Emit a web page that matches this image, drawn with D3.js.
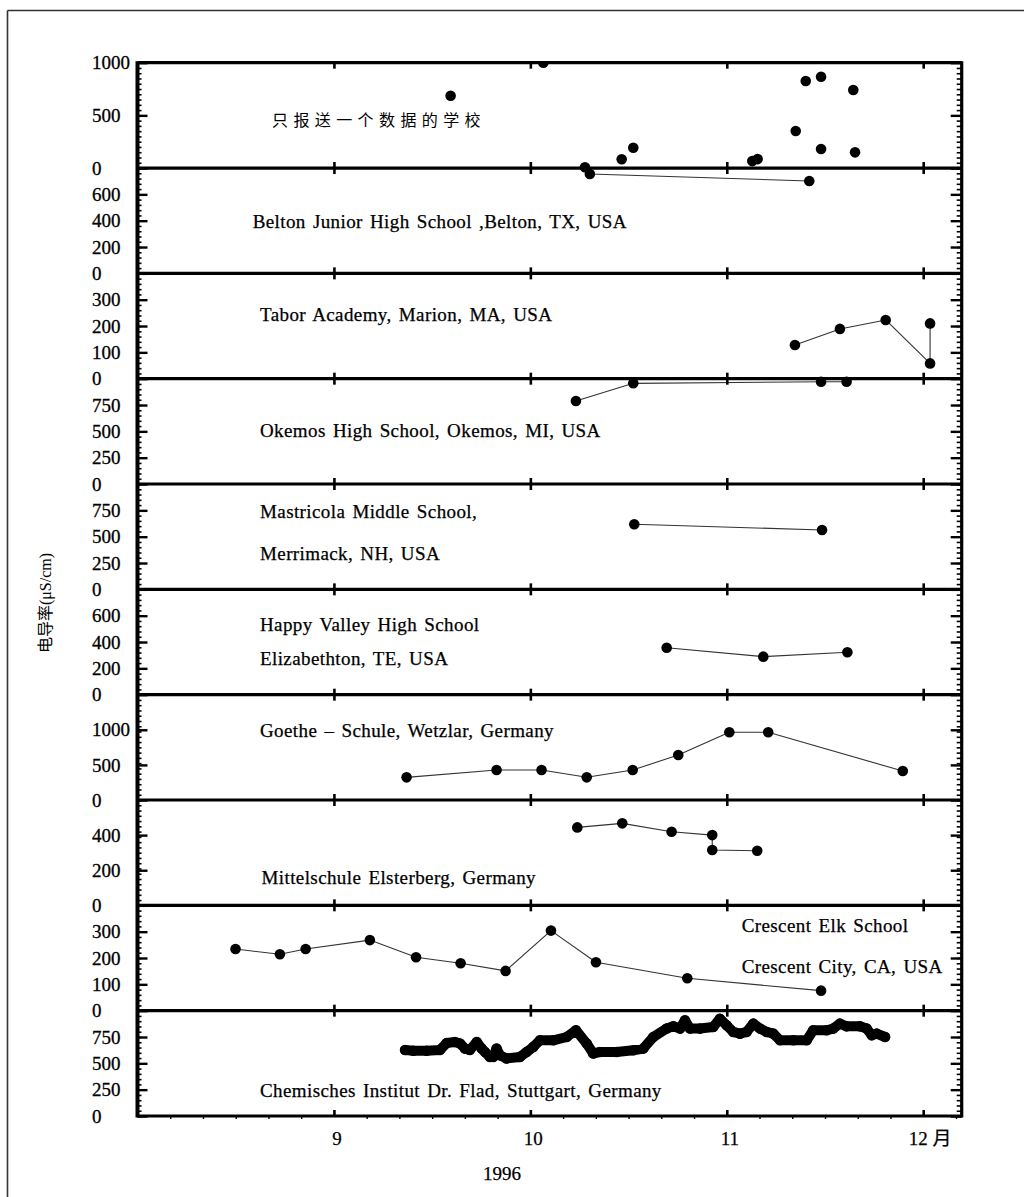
<!DOCTYPE html>
<html><head><meta charset="utf-8">
<script src="https://cdn.jsdelivr.net/npm/d3@7"></script>
<style>
body{margin:0;background:#fff;}
svg{display:block;}
</style></head><body>
<svg id="chart" width="1024" height="1197"></svg>
<script>
// ---------------- DATA ----------------
const panelNames = ["single","belton","tabor","okemos","mastricola","happy","goethe","mittel","crescent","chem"];
const panelMax = [1000, 800, 400, 1000, 1000, 800, 1500, 600, 400, 1000];
const panelTicks = [
  [0,500,1000],[0,200,400,600],[0,100,200,300],[0,250,500,750],[0,250,500,750],
  [0,200,400,600],[0,500,1000],[0,200,400],[0,100,200,300],[0,250,500,750]
];
const panelLabels = [
  ["只报送一个数据的学校"],
  ["Belton Junior High School ,Belton, TX, USA"],
  ["Tabor Academy, Marion, MA, USA"],
  ["Okemos High School, Okemos, MI, USA"],
  ["Mastricola Middle School,", "Merrimack, NH, USA"],
  ["Happy Valley High School", "Elizabethton, TE, USA"],
  ["Goethe – Schule, Wetzlar, Germany"],
  ["Mittelschule Elsterberg, Germany"],
  ["Crescent Elk School", "Crescent City, CA, USA"],
  ["Chemisches Institut Dr. Flad, Stuttgart, Germany"]
];
const monthTicks = [9, 10, 11, 12];
const monthLabels = ["9", "10", "11", "12 月"];
const yearLabel = "1996";
const yTitle = "电导率(μS/cm)";

// x in fractional months (8 = 1 Aug 1996), y in µS/cm
const singleMonths = [9.594, 10.066, 10.465, 10.524, 11.13, 11.157, 11.351, 11.402, 11.48, 11.48, 11.644, 11.653];
const singleValues = [686, 1000, 83, 193, 66, 85, 351, 826, 867, 180, 741, 149];

const beltonMonths = [10.278, 10.303, 11.42];
const beltonValues = [806, 755, 702];

const taborMonths = [11.347, 11.576, 11.809, 12.035, 12.035];
const taborValues = [128, 189, 223, 58, 210];

const okemosMonths = [10.232, 10.524, 11.48, 11.61];
const okemosValues = [788, 956, 971, 971];

const mastricolaMonths = [10.529, 11.485];
const mastricolaValues = [618, 564];

const happyMonths = [10.694, 11.186, 11.614];
const happyValues = [357, 289, 322];

const goetheMonths = [9.370, 9.828, 10.057, 10.287, 10.521, 10.753, 11.013, 11.211, 11.896];
const goetheValues = [323, 427, 427, 323, 427, 641, 964, 964, 413];

const mittelMonths = [10.239, 10.468, 10.719, 10.926, 10.926, 11.155];
const mittelValues = [444, 467, 419, 400, 315, 311];

const crescentMonths = [8.499, 8.725, 8.856, 9.183, 9.418, 9.645, 9.874, 10.105, 10.334, 10.799, 11.480];
const crescentValues = [234, 214, 234, 268, 203, 180, 151, 304, 184, 123, 76];

const chemMonths = [9.362, 9.404, 9.472, 9.540, 9.574, 9.616, 9.642, 9.667, 9.692, 9.727, 9.752, 9.769, 9.794, 9.811,
  9.828, 9.845, 9.879, 9.947, 9.981, 10.015, 10.049, 10.117, 10.185, 10.232, 10.287, 10.320, 10.354, 10.439, 10.524,
  10.575, 10.626, 10.694, 10.728, 10.762, 10.787, 10.813, 10.864, 10.931, 10.965, 10.999, 11.033, 11.067, 11.101,
  11.135, 11.169, 11.203, 11.237, 11.271, 11.339, 11.407, 11.440, 11.509, 11.542, 11.576, 11.610, 11.678, 11.712,
  11.738, 11.763, 11.806];
const chemValues = [627, 620, 620, 627, 693, 703, 688, 640, 627, 703, 640, 608, 561, 561,
  640, 577, 546, 561, 608, 656, 719, 719, 750, 814, 688, 593, 608, 608, 624,
  640, 750, 830, 851, 830, 908, 830, 830, 845, 924, 861, 798, 782, 798,
  877, 830, 798, 782, 719, 719, 719, 814, 814, 830, 877, 851, 851, 830,
  766, 782, 750];

const seriesMonths = [singleMonths, beltonMonths, taborMonths, okemosMonths, mastricolaMonths, happyMonths, goetheMonths, mittelMonths, crescentMonths, chemMonths];
const seriesValues = [singleValues, beltonValues, taborValues, okemosValues, mastricolaValues, happyValues, goetheValues, mittelValues, crescentValues, chemValues];
const seriesConnected = [false, true, true, true, true, true, true, true, true, true];

// ---------------- LAYOUT ----------------
const X0 = 137.5, X1 = 961.7, TOP = 62.7, BOTTOM = 1116;
const N = panelNames.length;
const H = (BOTTOM - TOP) / N;
const serif = '"Liberation Serif","Times New Roman","Noto Sans CJK SC",serif';
const cjk = '"Noto Sans CJK SC","Noto Sans CJK JP",sans-serif';

const svg = d3.select("#chart");
svg.append("rect").attr("width",1024).attr("height",1197).attr("fill","#fff");

// outer frame (top and left)
svg.append("line").attr("x1",7.5).attr("x2",1024).attr("y1",10.5).attr("y2",10.5).attr("stroke","#333").attr("stroke-width",1.6);
svg.append("line").attr("x1",7.5).attr("x2",7.5).attr("y1",10.5).attr("y2",1197).attr("stroke","#333").attr("stroke-width",1.6);

const x = d3.scaleLinear().domain([8, 12.196]).range([X0, X1]);

svg.append("clipPath").attr("id","plotclip").append("rect")
  .attr("x", X0).attr("y", TOP).attr("width", X1 - X0).attr("height", BOTTOM - TOP);

const plot = svg.append("g").attr("clip-path","url(#plotclip)");
const axesG = svg.append("g");

for (let i = 0; i < N; i++) {
  const yTop = TOP + i * H, yBot = TOP + (i + 1) * H;
  const y = d3.scaleLinear().domain([0, panelMax[i]]).range([yBot, yTop]);
  const pts = seriesMonths[i].map((m, k) => [m, seriesValues[i][k]]);

  if (seriesConnected[i]) {
    const line = d3.line().x(d => x(d[0])).y(d => y(d[1]));
    const isChem = panelNames[i] === "chem";
    plot.append("path").datum(pts).attr("d", line)
      .attr("fill","none").attr("stroke", isChem ? "#000" : "#333")
      .attr("stroke-width", isChem ? 10 : 1.1)
      .attr("stroke-linejoin","round").attr("stroke-linecap","round");
  }
  plot.append("g").selectAll("circle").data(pts).join("circle")
    .attr("cx", d => x(d[0])).attr("cy", d => y(d[1])).attr("r", 5.3).attr("fill", "#000");

  // left axis: ticks inward
  const minor = d3.range(0, panelMax[i] + 1e-6, panelMax[i] / 20);
  axesG.append("g").attr("transform", `translate(${X0},0)`)
    .call(d3.axisRight(y).tickValues(minor).tickSize(4).tickFormat(""))
    .call(g => g.select(".domain").remove())
    .call(g => g.selectAll("line").attr("stroke-width", 1.6));
  axesG.append("g").attr("transform", `translate(${X0},0)`)
    .call(d3.axisRight(y).tickValues(panelTicks[i]).tickSize(10).tickFormat(""))
    .call(g => g.select(".domain").remove())
    .call(g => g.selectAll("line").attr("stroke-width", 2.4));
  // right axis: ticks inward
  axesG.append("g").attr("transform", `translate(${X1},0)`)
    .call(d3.axisLeft(y).tickValues(minor).tickSize(5).tickFormat(""))
    .call(g => g.select(".domain").remove())
    .call(g => g.selectAll("line").attr("stroke-width", 1.6));
  axesG.append("g").attr("transform", `translate(${X1},0)`)
    .call(d3.axisLeft(y).tickValues(panelTicks[i]).tickSize(11).tickFormat(""))
    .call(g => g.select(".domain").remove())
    .call(g => g.selectAll("line").attr("stroke-width", 2.4));

  // tick labels (left-aligned)
  axesG.append("g").selectAll("text").data(panelTicks[i]).join("text")
    .attr("x", 92).attr("y", d => y(d)).attr("dy", "0.35em")
    .attr("font-family", serif).attr("font-size", 19).attr("fill", "#000")
    .attr("stroke", "#000").attr("stroke-width", 0.3)
    .text(d => d);

  // panel labels
  const name = panelNames[i];
  let lx = 260, lys = [];
  if (name === "single") { lx = 272; lys = [126]; }
  else if (name === "belton") { lx = 252.7; lys = [227.7]; }
  else if (name === "tabor") lys = [320.7];
  else if (name === "okemos") lys = [437.2];
  else if (name === "mastricola") lys = [518.3, 560];
  else if (name === "happy") lys = [631.2, 665];
  else if (name === "goethe") lys = [736.7];
  else if (name === "mittel") { lx = 261.5; lys = [884]; }
  else if (name === "crescent") { lx = 741.7; lys = [932.3, 972.7]; }
  else if (name === "chem") lys = [1097];
  panelLabels[i].forEach((t, k) => {
    const tx = svg.append("text").attr("x", lx).attr("y", lys[k]).attr("fill", "#000").text(t);
    if (name === "single") tx.attr("font-family", cjk).attr("font-size", 16).attr("letter-spacing", "5.4px");
    else tx.attr("font-family", serif).attr("font-size", 19).attr("letter-spacing", "0.4px").attr("word-spacing", "2px")
      .attr("stroke", "#000").attr("stroke-width", 0.25);
  });
}

// horizontal panel boundaries with month ticks
for (let i = 0; i <= N; i++) {
  const yy = TOP + i * H;
  axesG.append("line").attr("x1", X0).attr("x2", X1).attr("y1", yy).attr("y2", yy)
    .attr("stroke", "#000").attr("stroke-width", 3.2);
  if (i > 0) {
    axesG.append("g").attr("transform", `translate(0,${yy})`)
      .call(d3.axisTop(x).tickValues(monthTicks).tickSize(6).tickFormat(""))
      .call(g => g.select(".domain").remove())
      .call(g => g.selectAll("line").attr("stroke-width", 2.6));
  }
  if (i < N) {
    axesG.append("g").attr("transform", `translate(0,${yy})`)
      .call(d3.axisBottom(x).tickValues(monthTicks).tickSize(6).tickFormat(""))
      .call(g => g.select(".domain").remove())
      .call(g => g.selectAll("line").attr("stroke-width", 2.6));
  }
}
// bottom minor ticks
const minorMonths = d3.range(8, 12.19, 1 / 6).filter(m => Math.abs(m - Math.round(m)) > 0.01);
axesG.append("g").attr("transform", `translate(0,${BOTTOM})`)
  .call(d3.axisBottom(x).tickValues(minorMonths).tickSize(3).tickFormat(""))
  .call(g => g.select(".domain").remove())
  .call(g => g.selectAll("line").attr("stroke-width", 1.4));

// vertical frame lines
axesG.append("line").attr("x1", X0).attr("x2", X0).attr("y1", TOP - 1.5).attr("y2", BOTTOM + 1.5)
  .attr("stroke", "#000").attr("stroke-width", 4);
axesG.append("line").attr("x1", X1).attr("x2", X1).attr("y1", TOP - 1.5).attr("y2", BOTTOM + 1.5)
  .attr("stroke", "#000").attr("stroke-width", 3.2);

// month labels
svg.append("g").selectAll("text").data(monthTicks).join("text")
  .attr("x", (d, k) => x(d) + (k === 3 ? 7 : 3)).attr("y", 1145)
  .attr("text-anchor", "middle").attr("font-family", serif).attr("font-size", 19).attr("fill", "#000")
  .attr("stroke", "#000").attr("stroke-width", 0.25)
  .text((d, k) => monthLabels[k]);

svg.append("text").attr("x", 502).attr("y", 1180).attr("text-anchor", "middle")
  .attr("font-family", serif).attr("font-size", 19).attr("fill", "#000")
  .attr("stroke", "#000").attr("stroke-width", 0.25).text(yearLabel);

svg.append("text").attr("transform", "translate(51,603) rotate(-90)")
  .attr("text-anchor", "middle").attr("font-family", serif).attr("font-size", 16).attr("fill", "#000")
  .text(yTitle);
</script>
</body></html>
